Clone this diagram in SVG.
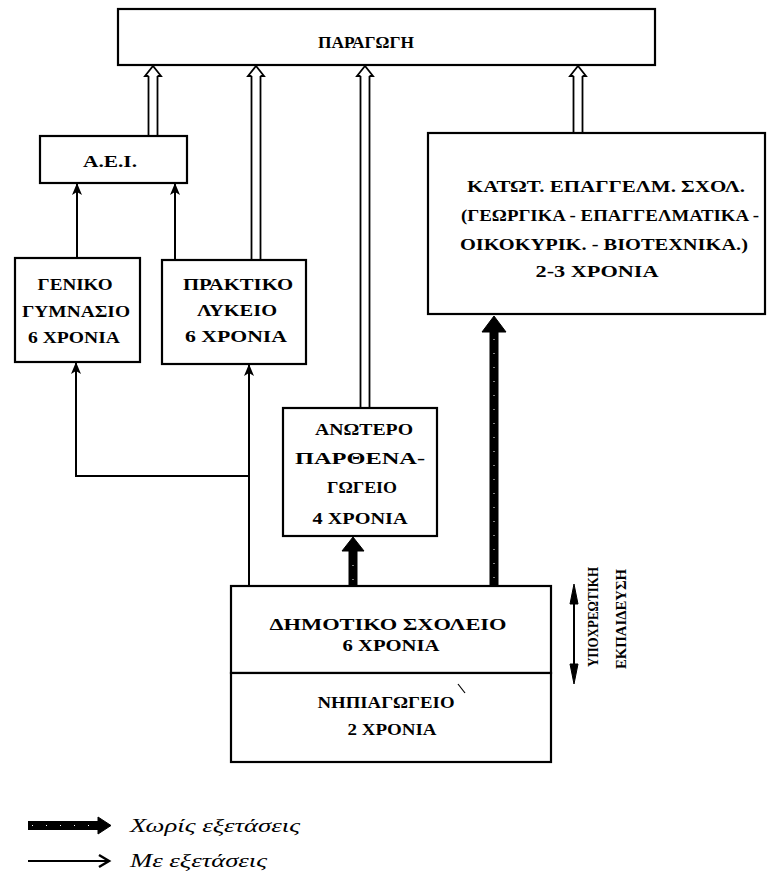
<svg xmlns="http://www.w3.org/2000/svg" width="768" height="881" viewBox="0 0 768 881">
<style>
.box{fill:#fff;stroke:#000;stroke-width:2.2}
.t{font-family:"Liberation Serif","DejaVu Serif",serif;font-weight:bold;font-size:16px;fill:#000;text-anchor:middle}
.v{font-family:"Liberation Serif","DejaVu Serif",serif;font-weight:bold;font-size:14px;fill:#000;text-anchor:middle}
.lg{font-family:"Liberation Serif","DejaVu Serif",serif;font-style:italic;font-size:18px;fill:#000}
.ln{fill:none;stroke:#000;stroke-width:2}
.dbl{fill:none;stroke:#000;stroke-width:1.8}
.thick{fill:none;stroke:#000;stroke-width:9}
.speck{fill:none;stroke:#fff;stroke-width:1;stroke-dasharray:1 13}
.head{fill:#000;stroke:#000;stroke-width:1}
</style>
<defs>
<marker id="ah" viewBox="0 0 12 10" markerUnits="userSpaceOnUse" markerWidth="12" markerHeight="10" refX="11" refY="5" orient="auto">
<path d="M0,0 L12,5 L0,10 L3,5 z" fill="#000"/>
</marker>
<path id="dh" d="M-4.5,10 L-8,10 L0,0 L8,10 L4.5,10" fill="none" stroke="#000" stroke-width="1.8" stroke-linejoin="miter"/>
</defs>
<rect width="768" height="881" fill="#fff"/>

<g id="paragogi">
<rect class="box" x="118" y="9" width="537" height="56"/>
<text class="t" x="366" y="48" textLength="96" lengthAdjust="spacingAndGlyphs">ΠΑΡΑΓΩΓΗ</text>
</g>

<g id="aei">
<rect class="box" x="40" y="136" width="147" height="47"/>
<text class="t" x="110" y="167" textLength="54" lengthAdjust="spacingAndGlyphs">Α.Ε.Ι.</text>
</g>

<g id="geniko">
<rect class="box" x="15" y="258" width="125" height="104"/>
<text class="t" x="75" y="290" textLength="75" lengthAdjust="spacingAndGlyphs">ΓΕΝΙΚΟ</text>
<text class="t" x="76" y="317" textLength="108" lengthAdjust="spacingAndGlyphs">ΓΥΜΝΑΣΙΟ</text>
<text class="t" x="74" y="343" textLength="92" lengthAdjust="spacingAndGlyphs">6 ΧΡΟΝΙΑ</text>
</g>

<g id="praktiko">
<rect class="box" x="162" y="260" width="144" height="104"/>
<text class="t" x="238" y="290" textLength="110" lengthAdjust="spacingAndGlyphs">ΠΡΑΚΤΙΚΟ</text>
<text class="t" x="237" y="316" textLength="80" lengthAdjust="spacingAndGlyphs">ΛΥΚΕΙΟ</text>
<text class="t" x="236" y="342" textLength="102" lengthAdjust="spacingAndGlyphs">6 ΧΡΟΝΙΑ</text>
</g>

<g id="katot">
<rect class="box" x="428" y="133" width="337" height="181"/>
<text class="t" x="606" y="192" textLength="278" lengthAdjust="spacingAndGlyphs">ΚΑΤΩΤ. ΕΠΑΓΓΕΛΜ. ΣΧΟΛ.</text>
<text class="t" x="610" y="221" textLength="298" lengthAdjust="spacingAndGlyphs">(ΓΕΩΡΓΙΚΑ - ΕΠΑΓΓΕΛΜΑΤΙΚΑ -</text>
<text class="t" x="604" y="250" textLength="288" lengthAdjust="spacingAndGlyphs">ΟΙΚΟΚΥΡΙΚ. - ΒΙΟΤΕΧΝΙΚΑ.)</text>
<text class="t" x="597" y="277" textLength="123" lengthAdjust="spacingAndGlyphs">2-3 ΧΡΟΝΙΑ</text>
</g>

<g id="anotero">
<rect class="box" x="283" y="408" width="154" height="128"/>
<text class="t" x="364" y="435" textLength="98" lengthAdjust="spacingAndGlyphs">ΑΝΩΤΕΡΟ</text>
<text class="t" x="360" y="464" textLength="130" lengthAdjust="spacingAndGlyphs">ΠΑΡΘΕΝΑ-</text>
<text class="t" x="362" y="493" textLength="70" lengthAdjust="spacingAndGlyphs">ΓΩΓΕΙΟ</text>
<text class="t" x="360" y="524" textLength="95" lengthAdjust="spacingAndGlyphs">4 ΧΡΟΝΙΑ</text>
</g>

<g id="dimotiko">
<rect class="box" x="231" y="586" width="320" height="87"/>
<text class="t" x="388" y="630" textLength="237" lengthAdjust="spacingAndGlyphs">ΔΗΜΟΤΙΚΟ ΣΧΟΛΕΙΟ</text>
<text class="t" x="391" y="651" textLength="97" lengthAdjust="spacingAndGlyphs">6 ΧΡΟΝΙΑ</text>
</g>

<g id="nipiagogeio">
<rect class="box" x="231" y="673" width="320" height="89"/>
<text class="t" x="386" y="708" textLength="137" lengthAdjust="spacingAndGlyphs">ΝΗΠΙΑΓΩΓΕΙΟ</text>
<line x1="458" y1="684" x2="465" y2="693" stroke="#000" stroke-width="1.2"/>
<text class="t" x="392" y="735" textLength="89" lengthAdjust="spacingAndGlyphs">2 ΧΡΟΝΙΑ</text>
</g>

<g id="connectors">
<g>
<line class="dbl" x1="148.5" y1="76" x2="148.5" y2="136"/><line class="dbl" x1="157.5" y1="76" x2="157.5" y2="136"/>
<use href="#dh" x="153" y="66"/>
<line class="dbl" x1="251.5" y1="76" x2="251.5" y2="260"/><line class="dbl" x1="260.5" y1="76" x2="260.5" y2="260"/>
<use href="#dh" x="256" y="66"/>
<line class="dbl" x1="360.5" y1="76" x2="360.5" y2="408"/><line class="dbl" x1="369.5" y1="76" x2="369.5" y2="408"/>
<use href="#dh" x="365" y="66"/>
<line class="dbl" x1="573.5" y1="76" x2="573.5" y2="133"/><line class="dbl" x1="582.5" y1="76" x2="582.5" y2="133"/>
<use href="#dh" x="578" y="66"/>
</g>
<line class="ln" x1="77" y1="258" x2="77" y2="184" marker-end="url(#ah)"/>
<line class="ln" x1="175" y1="260" x2="175" y2="184" marker-end="url(#ah)"/>
<polyline class="ln" points="249,586 249,365" marker-end="url(#ah)"/>
<polyline class="ln" points="249,476 76,476 76,363" marker-end="url(#ah)"/>
<line class="thick" x1="353" y1="586" x2="353" y2="550"/>
<line class="speck" x1="353" y1="580" x2="353" y2="552"/>
<polygon class="head" points="342,551 353,537 364,551"/>
<line class="thick" x1="494" y1="586" x2="494" y2="331"/>
<line class="speck" x1="494" y1="578" x2="494" y2="336"/>
<polygon class="head" points="482,332 494,316 506,332"/>
</g>

<g id="ypoxreotiki">
<line class="ln" x1="574" y1="598" x2="574" y2="670"/>
<polygon class="head" points="570,604 574,584 578,604"/>
<polygon class="head" points="570,664 574,684 578,664"/>
<text class="v" transform="translate(598,617) rotate(-90)" textLength="100" lengthAdjust="spacingAndGlyphs">ΥΠΟΧΡΕΩΤΙΚΗ</text>
<text class="v" transform="translate(626,619) rotate(-90)" textLength="100" lengthAdjust="spacingAndGlyphs">ΕΚΠΑΙΔΕΥΣΗ</text>
</g>

<g id="legend">
<line class="thick" x1="28" y1="825.5" x2="100" y2="825.5"/>
<line class="speck" x1="32" y1="825.5" x2="96" y2="825.5"/>
<polygon class="head" points="98,817 111,825.5 98,834"/>
<text class="lg" x="130" y="832" textLength="170" lengthAdjust="spacingAndGlyphs">Χωρίς εξετάσεις</text>
<line class="ln" x1="28" y1="861" x2="108" y2="861"/>
<polyline points="99,855 109,861 99,867" fill="none" stroke="#000" stroke-width="2.5"/>
<text class="lg" x="130" y="867" textLength="137" lengthAdjust="spacingAndGlyphs">Με εξετάσεις</text>
</g>
</svg>
